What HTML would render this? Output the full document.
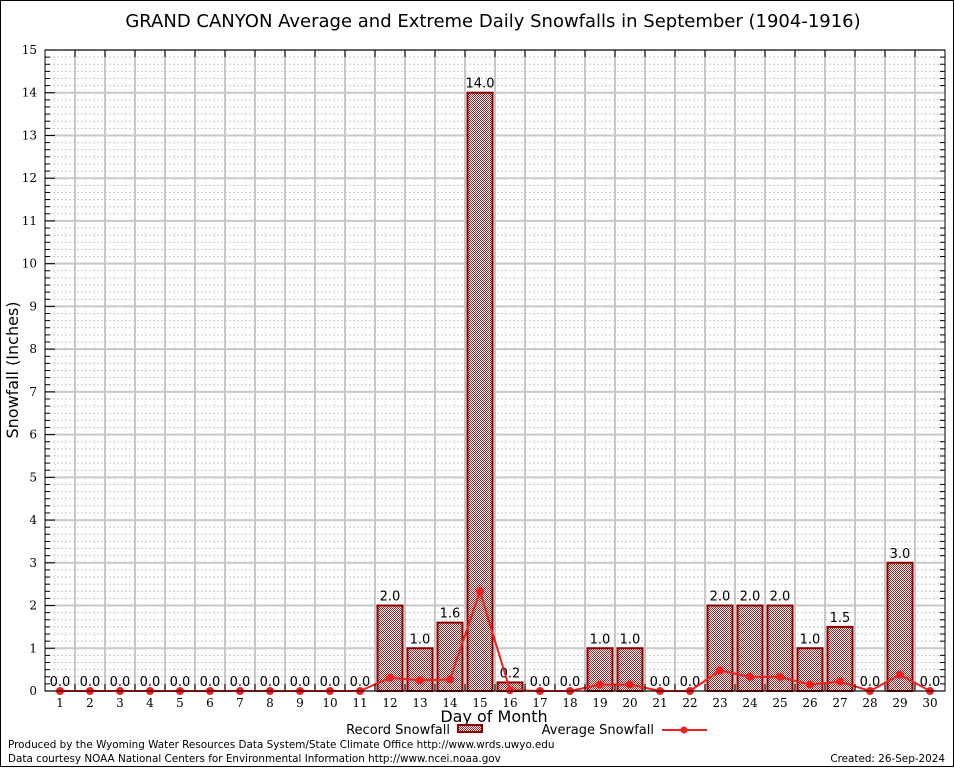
<!DOCTYPE html>
<html><head><meta charset="utf-8"><style>
html,body{margin:0;padding:0;background:#fff}
svg{display:block}
text{font-family:"DejaVu Sans","Liberation Sans",sans-serif}
.tick{font-family:"DejaVu Serif","Liberation Serif",serif;font-size:12px}
</style></head><body>
<svg id="c" width="954" height="768" xmlns="http://www.w3.org/2000/svg">
<defs>
<pattern id="hatch" width="2" height="2" patternUnits="userSpaceOnUse">
<rect width="2" height="2" fill="#fff"/>
<rect x="0" y="0" width="1" height="1" fill="#b02020"/>
<rect x="1" y="1" width="1" height="1" fill="#b02020"/>
</pattern>
</defs>
<rect x="0.5" y="0.5" width="953" height="766" fill="#fff" stroke="#000"/>
<text x="493" y="27" font-size="18" text-anchor="middle">GRAND CANYON Average and Extreme Daily Snowfalls in September (1904-1916)</text>
<g id="grid"></g>
<g id="bars"></g>
<g id="line"></g>
<g id="axes"></g>
<text transform="translate(18,370) rotate(-90)" font-size="16" text-anchor="middle">Snowfall (Inches)</text>
<text x="494" y="722" font-size="16" text-anchor="middle">Day of Month</text>
<g>
<text x="450" y="734" font-size="13" text-anchor="end">Record Snowfall</text>
<rect x="458" y="725" width="24" height="7" fill="url(#hatch)" stroke="#8b0000" stroke-width="2"/>
</g>
<g>
<text x="654" y="734" font-size="13" text-anchor="end">Average Snowfall</text>
<line x1="662" y1="730" x2="707" y2="730" stroke="#f02020" stroke-width="2"/>
<circle cx="684" cy="730" r="3.5" fill="#f02020"/>
</g>
<text x="8" y="748" font-size="10.4">Produced by the Wyoming Water Resources Data System/State Climate Office http://www.wrds.uwyo.edu</text>
<text x="8" y="762" font-size="10.4">Data courtesy NOAA National Centers for Environmental Information http://www.ncei.noaa.gov</text>
<text x="945" y="762" font-size="10.4" text-anchor="end">Created: 26-Sep-2024</text>
</svg>
<script>
const days=[1,2,3,4,5,6,7,8,9,10,11,12,13,14,15,16,17,18,19,20,21,22,23,24,25,26,27,28,29,30];
const record=[0,0,0,0,0,0,0,0,0,0,0,2.0,1.0,1.6,14.0,0.2,0,0,1.0,1.0,0,0,2.0,2.0,2.0,1.0,1.5,0,3.0,0];
const average=[0,0,0,0,0,0,0,0,0,0,0,0.31,0.25,0.27,2.33,0.02,0,0,0.15,0.15,0,0,0.48,0.33,0.33,0.15,0.22,0,0.38,0];
const yTicks=[0,1,2,3,4,5,6,7,8,9,10,11,12,13,14,15];
const NS="http://www.w3.org/2000/svg";
const L=45,R=945,T=50,B=691;
const x=d=>30+30*d;
const y=v=>B-(v/15)*(B-T);
function mk(tag,attrs,parent){const e=document.createElementNS(NS,tag);for(const k in attrs)e.setAttribute(k,attrs[k]);parent.appendChild(e);return e;}
const grid=document.getElementById('grid'),bars=document.getElementById('bars'),line=document.getElementById('line'),axes=document.getElementById('axes');
for(let i=0;i<15*6;i++){if(i%6===0)continue;const yy=y(i/6);mk('line',{x1:L,x2:R,y1:yy,y2:yy,stroke:'#c8c8c8','stroke-dasharray':'2,2','stroke-width':1},grid);}
for(let xx=L+10;xx<R;xx+=10){if((xx-L)%30===0)continue;mk('line',{x1:xx,x2:xx,y1:T,y2:B,stroke:'#d8d8d8','stroke-dasharray':'1,2','stroke-width':1},grid);}
yTicks.forEach(v=>{const yy=y(v);
const g=mk('line',{x1:L,x2:R,y1:yy,y2:yy,stroke:'#c8c8c8','stroke-width':2},grid);


const t=mk('text',{x:L-8,y:yy+4,'text-anchor':'end',class:'tick'},axes);t.textContent=v;


mk('line',{x1:L,x2:L+10,y1:yy,y2:yy,stroke:'#000','stroke-width':1},axes);
});
for(let i=0;i<15*6;i++){if(i%6===0)continue;mk('line',{x1:L,x2:L+5,y1:y(i/6),y2:y(i/6),stroke:'#000'},axes);mk('line',{x1:R-5,x2:R,y1:y(i/6),y2:y(i/6),stroke:'#000'},axes);}
for(let k=1;k<30;k++){const xx=L+30*k;mk('line',{x1:xx,x2:xx,y1:T,y2:B,stroke:'#c8c8c8','stroke-width':2},grid);mk('line',{x1:xx,x2:xx,y1:B,y2:B-7,stroke:'#000'},axes);mk('line',{x1:xx,x2:xx,y1:T,y2:T+7,stroke:'#000'},axes);}
mk('rect',{x:L,y:T,width:R-L,height:B-T,fill:'none',stroke:'#000','stroke-width':1},axes);
days.forEach((d,i)=>{
const v=record[i];
if(v>0){const r=mk('rect',{x:x(d)-12.5,y:y(v),width:25,height:B-y(v),fill:'url(#hatch)',stroke:'#8b0000','stroke-width':2},bars);

}
const lb=mk('text',{x:x(d),y:y(v)-5,'text-anchor':'middle','font-size':13},bars);lb.textContent=v.toFixed(1);


const tl=mk('text',{x:x(d),y:B+16,'text-anchor':'middle',class:'tick'},axes);tl.textContent=d;


});
const pts=days.map((d,i)=>x(d)+','+y(average[i])).join(' ');
const pl=mk('polyline',{points:pts,fill:'none',stroke:'#f02020','stroke-width':2},line);


days.forEach((d,i)=>{const c=mk('circle',{cx:x(d),cy:y(average[i]),r:4,fill:'#f02020'},line);

});
</script>
</body></html>
